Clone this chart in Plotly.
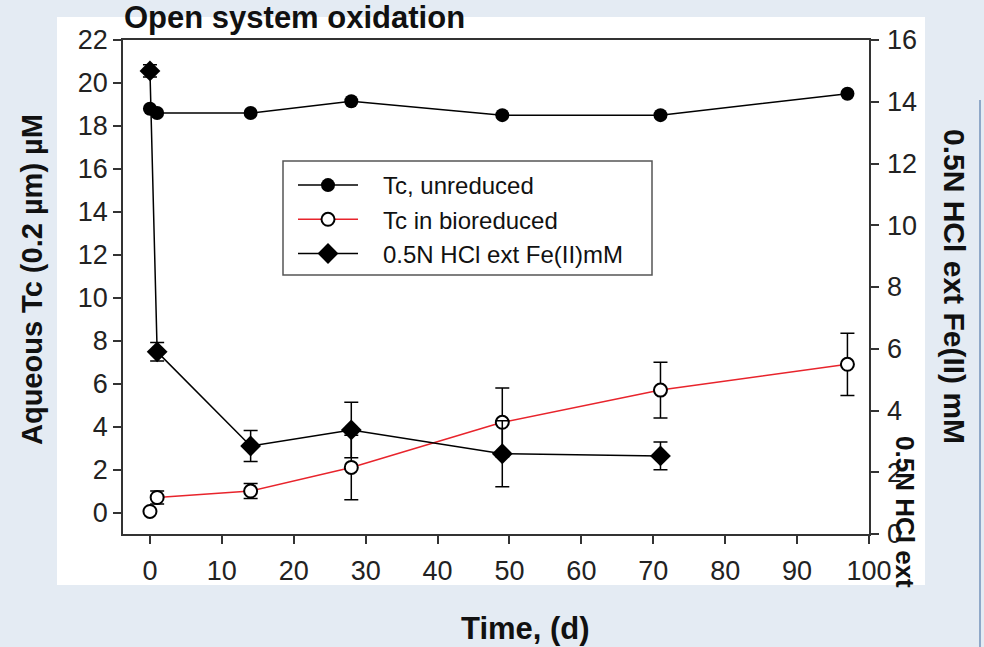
import plotly.graph_objects as go

# ---- data ----
days_unreduced = [0, 1, 14, 28, 49, 71, 97]
tc_unreduced = [18.8, 18.6, 18.6, 19.15, 18.5, 18.5, 19.5]

days_bio_start = [0]
tc_bio_start = [0.05]

days_bio = [1, 14, 28, 49, 71, 97]
tc_bio = [0.7, 1.0, 2.1, 4.2, 5.7, 6.9]
tc_bio_err = [0.3, 0.35, 1.5, 1.6, 1.3, 1.45]

days_fe = [0, 1, 14, 28, 49, 71]
fe_mM = [15.0, 5.9, 2.85, 3.37, 2.6, 2.53]
fe_err = [0.2, 0.3, 0.5, 0.9, 1.07, 0.45]

x_ticks = [0, 10, 20, 30, 40, 50, 60, 70, 80, 90, 100]
left_ticks = [0, 2, 4, 6, 8, 10, 12, 14, 16, 18, 20, 22]
right_ticks = [0, 2, 4, 6, 8, 10, 12, 14, 16]

legend_names = ["Tc, unreduced", "Tc in bioreduced", "0.5N HCl ext Fe(II)mM"]

FONT = "Liberation Sans, Arial, sans-serif"
AX = "#333333"
RED = "#e8242c"
PAD = "\u00a0\u00a0\u00a0"

# layout geometry (pixels)
W_FIG, H_FIG = 984, 647
ML, MR, MT, MB = 123, 75, 40, 113
PLOT_RIGHT = 869
W_AREA = W_FIG - ML - MR
H_AREA = H_FIG - MT - MB


def px(p):
    return (p - ML) / W_AREA


def py(p):
    return 1 - (p - MT) / H_AREA


fig = go.Figure()

fig.add_trace(go.Scatter(
    x=days_unreduced, y=tc_unreduced, name=PAD + legend_names[0],
    mode="lines+markers",
    line=dict(color="black", width=1.5),
    marker=dict(symbol="circle", size=14, color="black"),
))

fig.add_trace(go.Scatter(
    x=days_bio, y=tc_bio, name=PAD + legend_names[1],
    mode="lines+markers",
    line=dict(color=RED, width=1.5),
    marker=dict(symbol="circle", size=13, color="white", line=dict(color="black", width=2)),
    error_y=dict(type="data", array=tc_bio_err, color="black", thickness=1.5, width=7),
))

fig.add_trace(go.Scatter(
    x=days_bio_start, y=tc_bio_start, showlegend=False,
    mode="markers",
    marker=dict(symbol="circle", size=13, color="white", line=dict(color="black", width=2)),
))

fig.add_trace(go.Scatter(
    x=days_fe, y=fe_mM, name=PAD + legend_names[2], yaxis="y2",
    mode="lines+markers",
    line=dict(color="black", width=1.5),
    marker=dict(symbol="diamond", size=16, color="black"),
    error_y=dict(type="data", array=fe_err, color="black", thickness=1.5, width=7),
))

# invisible companion on the label-only right axis so that it gets drawn
fig.add_trace(go.Scatter(
    x=days_fe, y=fe_mM, yaxis="y3", showlegend=False, hoverinfo="skip",
    mode="markers", marker=dict(size=1, opacity=0),
))

tickfont = dict(family=FONT, size=27, color="#222222")
bold = dict(family=FONT, size=31, color="#111111", weight="bold")

fig.update_layout(
    width=W_FIG, height=H_FIG, autosize=False,
    margin=dict(l=ML, r=MR, t=MT, b=MB),
    paper_bgcolor="#e4ebf3",
    plot_bgcolor="white",
    showlegend=True,
    legend=dict(
        x=px(293), y=py(163), xanchor="left", yanchor="top",
        bgcolor="rgba(0,0,0,0)", borderwidth=0,
        font=dict(family=FONT, size=24, color="#111111"),
        itemwidth=60, tracegroupgap=0,
    ),
    xaxis=dict(
        domain=[0, px(PLOT_RIGHT)],
        range=[-3.75, 100], tickmode="array", tickvals=x_ticks,
        ticks="outside", ticklen=8, tickwidth=1.5, tickcolor=AX,
        showline=True, linecolor=AX, linewidth=1.5, mirror=True,
        showgrid=False, zeroline=False, tickfont=tickfont,
        ticklabelstandoff=4,
    ),
    yaxis=dict(
        range=[-1, 22], tickmode="array", tickvals=left_ticks,
        ticks="outside", ticklen=8, tickwidth=1.5, tickcolor=AX,
        showline=True, linecolor=AX, linewidth=1.5,
        showgrid=False, zeroline=False, tickfont=tickfont,
    ),
    yaxis2=dict(
        range=[0, 16], tickmode="array", tickvals=right_ticks,
        overlaying="y", side="right", showticklabels=False,
        ticks="outside", ticklen=8, tickwidth=1.5, tickcolor=AX,
        showline=True, linecolor=AX, linewidth=1.5,
        showgrid=False, zeroline=False,
    ),
    yaxis3=dict(
        range=[0, 16], tickmode="array", tickvals=right_ticks,
        overlaying="y", side="right", anchor="free", position=px(PLOT_RIGHT + 17),
        ticks="", showline=False,
        showgrid=False, zeroline=False, tickfont=tickfont,
    ),
    shapes=[
        dict(type="rect", xref="paper", yref="paper", layer="below",
             x0=px(57), x1=px(925), y0=py(585), y1=py(17),
             fillcolor="white", line=dict(width=0)),
        dict(type="rect", xref="paper", yref="paper", layer="above",
             x0=px(283), x1=px(652), y0=py(275), y1=py(161),
             fillcolor="rgba(0,0,0,0)", line=dict(color="#555555", width=1.5)),
        dict(type="line", xref="paper", yref="paper",
             x0=px(980), x1=px(980), y0=py(100), y1=py(647),
             line=dict(color="#8fa8c8", width=2)),
    ],
    annotations=[
        dict(text="Open system oxidation", xref="paper", yref="paper",
             x=px(122), y=py(18), xanchor="left", yanchor="middle",
             showarrow=False, font=dict(family=FONT, size=31, color="#111111", weight="bold")),
        dict(text="Time, (d)", xref="paper", yref="paper",
             x=px(525), y=py(628), xanchor="center", yanchor="middle",
             showarrow=False, font=bold),
        dict(text="Aqueous Tc (0.2 \u00b5m) \u00b5M", xref="paper", yref="paper",
             x=px(32), y=py(280), xanchor="center", yanchor="middle", textangle=-90,
             showarrow=False, font=dict(family=FONT, size=29, color="#111111", weight="bold")),
        dict(text="0.5N HCl ext Fe(II) mM", xref="paper", yref="paper",
             x=px(955), y=py(287), xanchor="center", yanchor="middle", textangle=90,
             showarrow=False, font=dict(family=FONT, size=30, color="#111111", weight="bold")),
        dict(text="0.5N HCl ext", xref="paper", yref="paper",
             x=px(905), y=py(512), xanchor="center", yanchor="middle", textangle=90,
             showarrow=False, font=dict(family=FONT, size=26, color="#111111", weight="bold")),
    ],
)

fig.write_html("out.html")
